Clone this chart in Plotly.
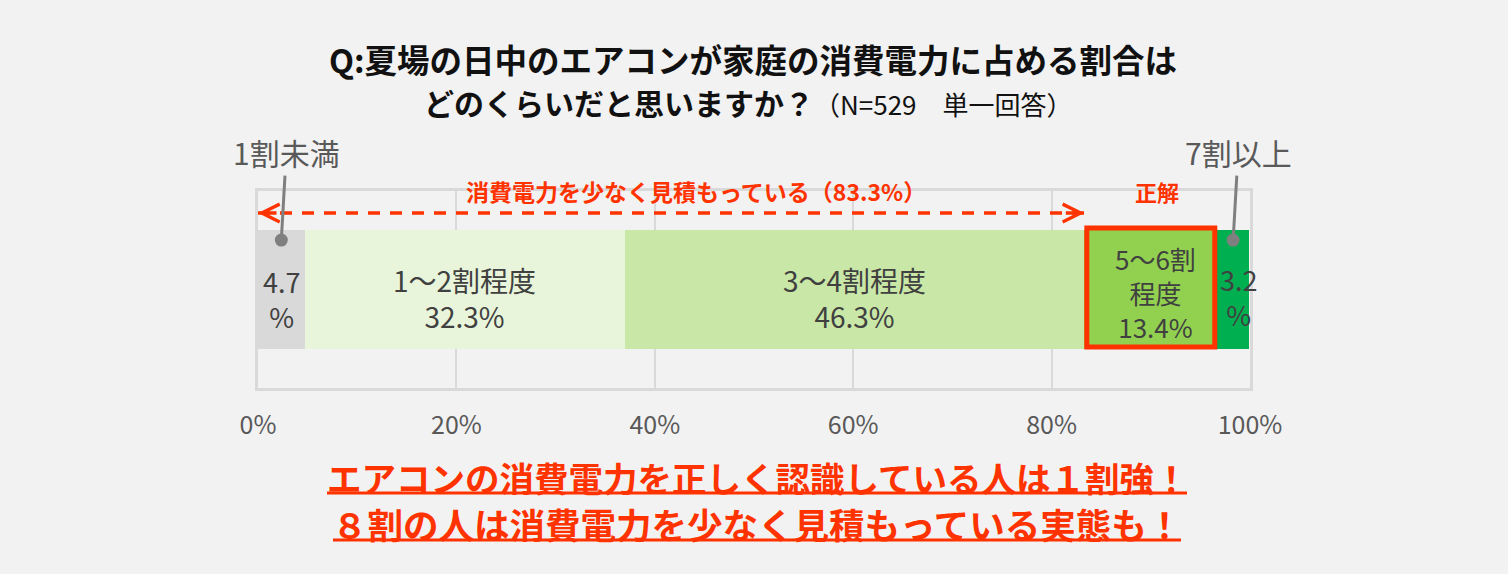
import plotly.graph_objects as go

# Data
categories = ["1割未満", "1～2割程度", "3～4割程度", "5～6割程度", "7割以上"]
values = [4.7, 32.3, 46.3, 13.4, 3.2]
bar_colors = ["#D9D9D9", "#E8F5DA", "#C9E7A7", "#92D050", "#00B050"]
bar_labels = ["4.7<br>%", "1～2割程度<br>32.3%", "3～4割程度<br>46.3%",
              "5～6割<br>程度<br>13.4%", "3.2<br>%"]
tick_vals = [0, 20, 40, 60, 80, 100]
tick_text = ["0%", "20%", "40%", "60%", "80%", "100%"]

title1 = "Q:夏場の日中のエアコンが家庭の消費電力に占める割合は"
title2 = "どのくらいだと思いますか？"
title2_sub = "（N=529　単一回答）"
under_label = "消費電力を少なく見積もっている（83.3%）"
correct_label = "正解"
msg1 = "エアコンの消費電力を正しく認識している人は１割強！"
msg2 = "８割の人は消費電力を少なく見積もっている実態も！"

BG = "#F2F2F2"
RED = "#FF3300"
GREY_TXT = "#595959"
DARK_TXT = "#404040"
FONT = "Noto Sans CJK JP"

W, H = 1508, 574
L, R, T, B = 258, 1250, 191, 388  # plot area in px


def px_x(px):
    return (px - L) / (R - L)


def px_y(py):
    return (B - py) / (B - T)


BAR_W = 0.604
fig = go.Figure()
for cat, v, c in zip(categories, values, bar_colors):
    fig.add_trace(go.Bar(
        y=[0], x=[v], orientation="h", name=cat,
        marker=dict(color=c, line=dict(width=0)),
        hoverinfo="x+name", showlegend=False,
    ))

annotations = []
starts = []
acc = 0
for v in values:
    starts.append(acc)
    acc += v

# labels inside bars
label_sizes = [27, 28, 28, 26, 27]
shifts = [9, 8, 8, 3, 7]
xoff = [0, 0, 0, 5, 5]
for i, txt in enumerate(bar_labels):
    annotations.append(dict(
        x=starts[i] + values[i] / 2, y=0, xref="x", yref="y", text=txt, showarrow=False,
        xanchor="center", yanchor="middle", xshift=xoff[i], yshift=-shifts[i],
        font=dict(family=FONT, size=label_sizes[i], color=DARK_TXT),
    ))

# callouts for small segments
dot_y = 0.251
for idx, axs in [(0, 5), (4, 5)]:
    mid = starts[idx] + values[idx] / 2
    annotations.append(dict(
        x=mid, y=dot_y, xref="x", yref="y", text=categories[idx], showarrow=True,
        ax=axs, ay=-88, arrowhead=0, arrowwidth=3, arrowcolor="#7F7F7F",
        standoff=0, font=dict(family=FONT, size=30, color=GREY_TXT),
    ))
    fig.add_trace(go.Scatter(
        x=[mid], y=[dot_y], mode="markers", cliponaxis=False,
        marker=dict(size=13, color="#7F7F7F"), hoverinfo="skip", showlegend=False,
    ))

# dashed arrow for underestimation
dash_y = 0.388
under_end = starts[3]
fig.add_shape(type="line", x0=0, x1=under_end, y0=dash_y, y1=dash_y,
              xref="x", yref="y", line=dict(color=RED, width=3.5, dash="12px,10px"))
for xx, axv in [(0, 20), (under_end, -20)]:
    annotations.append(dict(
        x=xx, y=dash_y, xref="x", yref="y", text="", showarrow=True,
        ax=axv, ay=0, arrowhead=5, arrowsize=1, arrowwidth=3.5, arrowcolor=RED,
        standoff=0,
    ))
annotations.append(dict(
    x=px_x(696), y=px_y(191), xref="paper", yref="paper", text="<b>" + under_label + "</b>",
    showarrow=False, xanchor="center", yanchor="middle",
    font=dict(family=FONT, size=23, color=RED),
))
annotations.append(dict(
    x=starts[3] + values[3] / 2, y=px_y(191), xref="x", yref="paper",
    text="<b>" + correct_label + "</b>", showarrow=False, xshift=6,
    xanchor="center", yanchor="middle",
    font=dict(family=FONT, size=22, color=RED),
))

# red box around the correct answer
fig.add_shape(type="rect", x0=starts[3] + 0.25, x1=starts[3] + values[3] - 0.25,
              y0=-BAR_W / 2 + 0.01, y1=BAR_W / 2 + 0.01, xref="x", yref="y",
              line=dict(color=RED, width=5), layer="above")

# titles
annotations.append(dict(
    x=px_x(753), y=px_y(58), xref="paper", yref="paper", text="<b>" + title1 + "</b>",
    showarrow=False, xanchor="center", yanchor="middle",
    font=dict(family=FONT, size=32.5, color="#111111"),
))
annotations.append(dict(
    x=px_x(748), y=px_y(102), xref="paper", yref="paper",
    text="<b>" + title2 + "</b><span style='font-size:26px'>" + title2_sub + "</span>",
    showarrow=False, xanchor="center", yanchor="middle",
    font=dict(family=FONT, size=30, color="#111111"),
))

# bottom messages with underline
for txt, size, cy, ux0, ux1, uy in [(msg1, 34.5, 477, 327, 1187, 493),
                                     (msg2, 35.5, 523, 333, 1181, 540)]:
    annotations.append(dict(
        x=px_x(757), y=px_y(cy), xref="paper", yref="paper", text="<b>" + txt + "</b>",
        showarrow=False, xanchor="center", yanchor="middle",
        font=dict(family=FONT, size=size, color=RED),
    ))
    fig.add_shape(type="line", x0=px_x(ux0), x1=px_x(ux1), y0=px_y(uy), y1=px_y(uy),
                  xref="paper", yref="paper", line=dict(color=RED, width=3))

fig.update_layout(
    width=W, height=H,
    margin=dict(l=L, r=W - R, t=T, b=H - B, pad=0),
    paper_bgcolor=BG, plot_bgcolor=BG,
    barmode="stack", bargap=1 - BAR_W,
    annotations=annotations,
    xaxis=dict(range=[0, 100], tickvals=tick_vals, ticktext=tick_text,
               showgrid=True, gridcolor="#D9D9D9", gridwidth=1.5, zeroline=False,
               showline=True, mirror=True, linecolor="#D9D9D9", linewidth=3,
               ticks="outside", ticklen=0, ticklabelstandoff=13,
               tickfont=dict(family=FONT, size=25, color=GREY_TXT), fixedrange=True),
    yaxis=dict(range=[-0.5, 0.5], showticklabels=False, showgrid=False, zeroline=False,
               showline=True, mirror=True, linecolor="#D9D9D9", linewidth=3, fixedrange=True),
    font=dict(family=FONT),
)

fig.write_html("out.html", config={"displayModeBar": False},
               post_script="document.body.style.margin='0';"
                           "document.body.style.background='#F2F2F2';")
